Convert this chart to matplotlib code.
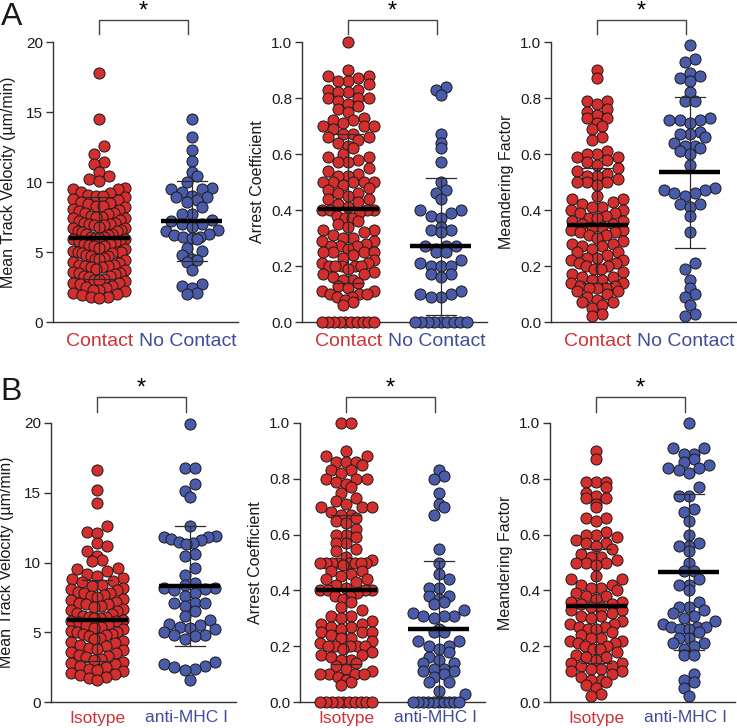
import numpy as np
import matplotlib
matplotlib.use('Agg')
import matplotlib.pyplot as plt

plt.rcParams['font.family'] = ['Liberation Sans', 'DejaVu Sans']

# ---- data ----
# Panel A: Contact vs No Contact
a_vel_contact = [17.8, 14.5, 12.6, 12.0, 11.4, 11.3, 10.7, 10.4, 10.2, 10.1,
                 9.6, 9.5, 9.5, 9.3, 9.2, 9.1, 9.0, 9.0,
                 8.9, 8.8, 8.7, 8.6, 8.5, 8.4, 8.3, 8.3, 8.2, 8.1, 8.0,
                 7.9, 7.8, 7.8, 7.7, 7.6, 7.5, 7.5, 7.4, 7.4, 7.3, 7.2, 7.1, 7.1, 7.0, 7.0,
                 6.9, 6.9, 6.8, 6.7, 6.7, 6.6, 6.5, 6.5, 6.4, 6.3, 6.3, 6.2, 6.1, 6.1, 6.0, 6.0,
                 5.9, 5.9, 5.8, 5.8, 5.7, 5.6, 5.6, 5.5, 5.4, 5.4, 5.3, 5.2, 5.1, 5.0, 5.0, 5.0,
                 4.9, 4.9, 4.8, 4.7, 4.7, 4.6, 4.5, 4.5, 4.4, 4.3, 4.2, 4.1, 4.1, 4.0, 4.0,
                 3.9, 3.9, 3.8, 3.7, 3.6, 3.5, 3.5, 3.4, 3.3, 3.3, 3.2, 3.1, 3.0, 3.0,
                 2.9, 2.8, 2.8, 2.7, 2.6, 2.5, 2.4, 2.3, 2.3, 2.2, 2.1, 2.0,
                 1.9, 1.8, 1.8, 1.7]
a_vel_nocontact = [14.5, 13.2, 12.3, 11.5, 10.7, 10.4, 10.0, 9.6, 9.5, 9.5, 9.3,
                   9.0, 8.9, 8.9, 8.7, 8.6, 8.2, 7.7, 7.7, 7.3, 7.2, 7.0, 7.0,
                   6.8, 6.6, 6.5, 6.3, 6.2, 6.1, 6.1, 6.0, 5.9, 5.3, 5.1, 4.8,
                   4.5, 4.4, 4.3, 3.7, 2.7, 2.6, 2.4, 2.1, 2.0]
a_arrest_contact = [1.0,
                    0.90, 0.88, 0.88, 0.87, 0.86, 0.86, 0.85,
                    0.83, 0.83, 0.82, 0.82, 0.80, 0.80, 0.80, 0.79, 0.78,
                    0.77, 0.76, 0.75, 0.73, 0.72, 0.72, 0.71, 0.70, 0.70, 0.70, 0.69,
                    0.67, 0.67, 0.66, 0.66, 0.65, 0.64, 0.63, 0.62,
                    0.60, 0.59, 0.59, 0.58, 0.57, 0.57, 0.55, 0.54,
                    0.53, 0.52, 0.52, 0.50, 0.50, 0.50, 0.50, 0.50, 0.49, 0.48, 0.47,
                    0.46, 0.46, 0.45, 0.44, 0.44, 0.43, 0.42, 0.41, 0.40, 0.40, 0.40, 0.40, 0.39, 0.38,
                    0.37, 0.37, 0.36, 0.35, 0.34, 0.33, 0.33, 0.32, 0.31, 0.30, 0.30,
                    0.29, 0.29, 0.28, 0.27, 0.27, 0.27, 0.26, 0.25, 0.25, 0.25, 0.25, 0.24, 0.23,
                    0.22, 0.21, 0.21,
                    0.20, 0.20, 0.20, 0.20, 0.20, 0.19, 0.18, 0.17, 0.17, 0.16, 0.15, 0.15, 0.14,
                    0.13, 0.12, 0.11,
                    0.11, 0.10, 0.10, 0.10, 0.09, 0.09, 0.08, 0.07, 0.06,
                    0.0, 0.0, 0.0, 0.0, 0.0, 0.0, 0.0, 0.0, 0.0, 0.0]
a_arrest_nocontact = [0.84, 0.83, 0.81, 0.67, 0.64, 0.62, 0.57, 0.50, 0.47, 0.46,
                      0.44, 0.40, 0.40, 0.39, 0.38, 0.37, 0.34, 0.33, 0.33, 0.32,
                      0.27, 0.27, 0.27, 0.26, 0.25, 0.25, 0.22, 0.21, 0.20, 0.20, 0.20,
                      0.17, 0.17, 0.16, 0.11, 0.10, 0.10, 0.09, 0.09,
                      0.0, 0.0, 0.0, 0.0, 0.0, 0.0, 0.0, 0.0, 0.0]
a_meander_contact = [0.90, 0.87,
                     0.79, 0.79, 0.78, 0.76, 0.75, 0.74, 0.73, 0.73, 0.71, 0.70, 0.69,
                     0.66, 0.65, 0.61,
                     0.60, 0.60, 0.59, 0.59, 0.58, 0.57, 0.56, 0.55, 0.54, 0.53, 0.52, 0.52,
                     0.51, 0.50, 0.50, 0.50, 0.49,
                     0.45, 0.44, 0.44, 0.43, 0.42, 0.41, 0.41, 0.40, 0.40, 0.39, 0.39, 0.38,
                     0.37, 0.37, 0.36, 0.36, 0.35, 0.35, 0.34, 0.34, 0.33, 0.33, 0.32, 0.32,
                     0.31, 0.31, 0.30,
                     0.29, 0.28, 0.28, 0.27, 0.27, 0.26, 0.25, 0.25, 0.24, 0.23, 0.23, 0.22,
                     0.22, 0.21, 0.21, 0.20, 0.20, 0.19, 0.19, 0.18, 0.17, 0.16, 0.16, 0.15,
                     0.15, 0.14, 0.14, 0.13, 0.13, 0.12, 0.12, 0.12, 0.11, 0.11, 0.10,
                     0.09, 0.08, 0.07, 0.07, 0.06, 0.05, 0.03, 0.02]
a_meander_nocontact = [0.99, 0.94, 0.93, 0.89, 0.88, 0.87, 0.86, 0.82, 0.79, 0.79,
                       0.73, 0.72, 0.72, 0.72, 0.71, 0.68, 0.67, 0.67, 0.66, 0.64,
                       0.63, 0.63, 0.62, 0.61, 0.60, 0.56, 0.48, 0.47, 0.47, 0.46,
                       0.46, 0.45, 0.42, 0.42, 0.41, 0.38, 0.32, 0.21, 0.19, 0.15,
                       0.12, 0.10, 0.09, 0.06, 0.03, 0.02]

# Panel B: Isotype vs anti-MHC I
b_vel_iso = [16.6, 15.2, 14.3, 12.6, 12.2, 12.1, 11.4, 11.2, 10.8, 10.5, 10.2, 10.1,
             9.6, 9.5, 9.4, 9.2, 9.0, 8.9, 8.8, 8.7, 8.6, 8.4, 8.3, 8.2, 8.1, 8.0,
             7.9, 7.8, 7.8, 7.7, 7.6, 7.5, 7.4, 7.3, 7.2, 7.1, 7.0, 7.0, 6.9, 6.8, 6.7,
             6.6, 6.5, 6.4, 6.3, 6.2, 6.1, 6.1, 6.0, 6.0,
             5.9, 5.8, 5.8, 5.7, 5.6, 5.5, 5.4, 5.3, 5.2, 5.1, 5.0, 5.0, 4.9, 4.9,
             4.8, 4.7, 4.6, 4.5, 4.4, 4.3, 4.2, 4.1, 4.0,
             3.9, 3.8, 3.7, 3.6, 3.5, 3.4, 3.3, 3.2, 3.1, 3.0, 2.9, 2.8, 2.7, 2.6,
             2.5, 2.4, 2.3, 2.2, 2.1, 2.0, 1.9, 1.8, 1.7, 1.6]
b_vel_anti = [19.9, 16.8, 16.8, 15.6, 15.1, 14.7,
              12.6, 11.9, 11.8, 11.8, 11.7, 11.6, 11.5, 11.4, 11.3,
              10.6, 10.5, 9.6, 9.1,
              8.5, 8.4, 8.2, 8.2, 8.1, 8.0, 7.8, 7.6, 7.1, 7.1, 7.1, 6.9,
              6.5, 6.2, 5.9, 5.6, 5.5, 5.4, 5.3, 5.2, 5.0, 4.8, 4.8, 4.7, 4.5,
              2.9, 2.7, 2.6, 2.5, 2.4, 2.3, 1.6]
b_arrest_iso = [1.0, 1.0, 0.90, 0.88, 0.88, 0.86, 0.86, 0.86, 0.85, 0.83, 0.83, 0.82,
                0.80, 0.80, 0.80, 0.79, 0.78, 0.77, 0.75,
                0.73, 0.72, 0.71, 0.70, 0.70, 0.70, 0.68, 0.67, 0.67, 0.66, 0.65, 0.64, 0.62,
                0.60, 0.60, 0.59, 0.57, 0.57,
                0.55, 0.54, 0.52, 0.51, 0.50, 0.50, 0.50, 0.50, 0.50, 0.50, 0.50, 0.50,
                0.49, 0.47, 0.47, 0.46, 0.45, 0.44, 0.44, 0.43, 0.42, 0.41, 0.40, 0.40,
                0.40, 0.40, 0.39, 0.38, 0.38, 0.37, 0.36,
                0.34, 0.33, 0.31, 0.31, 0.30, 0.29, 0.28, 0.28, 0.27, 0.27, 0.26, 0.25,
                0.25, 0.25, 0.24, 0.23, 0.23, 0.22, 0.21, 0.20, 0.20, 0.20, 0.20, 0.20,
                0.19, 0.18, 0.17, 0.17, 0.16, 0.15, 0.15, 0.14, 0.13, 0.12, 0.11, 0.10,
                0.10, 0.10, 0.10, 0.09, 0.08, 0.07, 0.06,
                0.0, 0.0, 0.0, 0.0, 0.0, 0.0, 0.0, 0.0, 0.0, 0.0]
b_arrest_anti = [0.83, 0.81, 0.80, 0.75, 0.71, 0.70, 0.67,
                 0.55, 0.50, 0.46, 0.44, 0.41, 0.41, 0.38, 0.38, 0.37, 0.36, 0.35,
                 0.33, 0.32, 0.31, 0.31, 0.31, 0.30,
                 0.26, 0.25, 0.25, 0.22, 0.22, 0.20, 0.20, 0.19, 0.18, 0.16, 0.15,
                 0.14, 0.14, 0.12, 0.12, 0.11, 0.11, 0.10, 0.09, 0.07, 0.07, 0.04, 0.03,
                 0.0, 0.0, 0.0, 0.0, 0.0, 0.0, 0.0, 0.0, 0.0, 0.0]
b_meander_iso = [0.90, 0.87, 0.79, 0.79, 0.79, 0.77, 0.75, 0.74, 0.73, 0.73, 0.71,
                 0.70, 0.66, 0.66, 0.65,
                 0.61, 0.60, 0.60, 0.59, 0.58, 0.57, 0.57, 0.56, 0.55, 0.53, 0.52,
                 0.52, 0.51, 0.50, 0.50, 0.50, 0.49,
                 0.45, 0.44, 0.44, 0.42, 0.42, 0.41, 0.41, 0.40, 0.39, 0.38, 0.38,
                 0.37, 0.36, 0.36, 0.35, 0.35, 0.34, 0.34, 0.33, 0.33, 0.32, 0.31,
                 0.31, 0.30,
                 0.29, 0.28, 0.28, 0.27, 0.27, 0.26, 0.26, 0.25, 0.24, 0.23, 0.23,
                 0.22, 0.22, 0.21, 0.21, 0.20, 0.20, 0.19, 0.19, 0.18, 0.17, 0.16,
                 0.16, 0.15, 0.14, 0.14, 0.13, 0.13, 0.12, 0.12, 0.11, 0.11, 0.10,
                 0.09, 0.08, 0.08, 0.07, 0.06, 0.05, 0.03, 0.02]
b_meander_anti = [1.0, 0.91, 0.91, 0.89, 0.89, 0.87, 0.86, 0.85, 0.84, 0.84, 0.83, 0.82,
                  0.77, 0.74, 0.74, 0.69, 0.68, 0.65, 0.60, 0.57, 0.56, 0.56, 0.54, 0.50,
                  0.47, 0.47, 0.44, 0.42, 0.42, 0.40, 0.36,
                  0.34, 0.34, 0.33, 0.32, 0.31, 0.30, 0.29, 0.28, 0.27, 0.27, 0.27,
                  0.26, 0.26, 0.25, 0.23, 0.23, 0.21, 0.21, 0.20, 0.19, 0.17, 0.17,
                  0.10, 0.08, 0.07, 0.05, 0.02]

# group means and SD ends
a_means = [[6.0, 7.2], [0.405, 0.27], [0.345, 0.535]]
a_sd_hi = [[8.95, 10.07], [0.67, 0.515], [0.55, 0.805]]
a_sd_lo = [[3.05, 4.33], [0.14, 0.025], [0.14, 0.265]]
b_means = [[5.85, 8.32], [0.40, 0.26], [0.345, 0.465]]
b_sd_hi = [[8.75, 12.65], [0.67, 0.505], [0.55, 0.745]]
b_sd_lo = [[2.95, 4.0], [0.135, 0.015], [0.14, 0.185]]

a_groups = ['Contact', 'No Contact']
b_groups = ['Isotype', 'anti-MHC I']
ylabels = ['Mean Track Velocity (\u00b5m/min)', 'Arrest Coefficient', 'Meandering Factor']

red = '#d42e2e'
blue = '#4a5ba9'
red_txt = '#cf3139'
blue_txt = '#3e4d9c'


def swarm_x(vals, bin_h, dx=0.11, half=0.28):
    # prism-like layout: bin values into rows, spread each row from the centre outwards
    vals = np.asarray(vals, dtype=float)
    xs = np.zeros(len(vals))
    bins = np.floor(vals / bin_h + 1e-9)
    for b in np.unique(bins):
        idx = np.where(bins == b)[0]
        idx = idx[np.argsort(vals[idx])]
        n = len(idx)
        step = dx if n < 2 or (n - 1) * dx / 2 <= half else 2 * half / (n - 1)
        for k, i in enumerate(idx):
            if n % 2 == 1:
                m = (k + 1) // 2
                sign = -1 if k % 2 == 1 else 1
                xs[i] = sign * m * step
            else:
                m = k // 2 + 0.5
                sign = -1 if k % 2 == 0 else 1
                xs[i] = sign * m * step
    return xs


fig = plt.figure(figsize=(7.37, 7.28), dpi=100)

rows = [
    dict(data=[(a_vel_contact, a_vel_nocontact), (a_arrest_contact, a_arrest_nocontact),
               (a_meander_contact, a_meander_nocontact)],
         means=a_means, hi=a_sd_hi, lo=a_sd_lo, groups=a_groups,
         lefts=[53, 302, 551], top=42, bottom=322, lab_size=14, lab_off=19,
         brk=(22, 8, 30), letter='A', letter_y=2),
    dict(data=[(b_vel_iso, b_vel_anti), (b_arrest_iso, b_arrest_anti),
               (b_meander_iso, b_meander_anti)],
         means=b_means, hi=b_sd_hi, lo=b_sd_lo, groups=b_groups,
         lefts=[51, 300, 550], top=423, bottom=702, lab_size=12.5, lab_off=16,
         brk=(26, 11, 34), letter='B', letter_y=377),
]

W, H = 737.0, 728.0
for row in rows:
    for j in range(3):
        left = row['lefts'][j]
        ax = fig.add_axes([left / W, 1 - row['bottom'] / H, 185 / W,
                           (row['bottom'] - row['top']) / H])
        hpx = row['bottom'] - row['top']
        if j == 0:
            ymax, ticks, bin_h = 20, [0, 5, 10, 15, 20], 0.75
        else:
            ymax, ticks, bin_h = 1.0, [0, 0.2, 0.4, 0.6, 0.8, 1.0], 0.037
        for g, (vals, col) in enumerate(zip(row['data'][j], [red, blue])):
            xs = g + swarm_x(vals, bin_h)
            ax.scatter(xs, vals, s=64, c=col, edgecolors='#1a1a1a', linewidths=0.7,
                       zorder=3, clip_on=False)
            m = row['means'][j][g]
            ax.plot([g, g], [row['lo'][j][g], row['hi'][j][g]], color='#2b2b2b',
                    lw=0.9, zorder=4, clip_on=False)
            for yv in (row['lo'][j][g], row['hi'][j][g]):
                ax.plot([g - 0.16, g + 0.16], [yv, yv], color='#2b2b2b', lw=0.9,
                        zorder=4, clip_on=False)
            ax.plot([g - 0.33, g + 0.33], [m, m], color='black', lw=3.2, zorder=5,
                    solid_capstyle='butt', clip_on=False)

        ax.set_xlim(-0.5, 1.5)
        ax.set_ylim(0, ymax)
        ax.set_yticks(ticks)
        if j == 0:
            ax.set_yticklabels([str(t) for t in ticks])
        else:
            ax.set_yticklabels(['%.1f' % t for t in ticks])
        ax.set_xticks([])
        for s in ['top', 'right']:
            ax.spines[s].set_visible(False)
        for s in ['left', 'bottom']:
            ax.spines[s].set_color('#333333')
            ax.spines[s].set_linewidth(1.0)
        ax.tick_params(axis='y', length=5, width=1.0, color='#333333',
                       labelsize=11, labelcolor='#1a1a1a', pad=2)
        ax.set_ylabel(ylabels[j], fontsize=11.5, color='#1a1a1a')
        ax.yaxis.set_label_coords(-0.2, 0.5)

        # group labels
        for g, col in enumerate([red_txt, blue_txt]):
            ax.annotate(row['groups'][g], xy=(g - 0.04 * g, 0),
                        xycoords=('data', 'axes fraction'),
                        xytext=(0, -row['lab_off'] * 0.72), textcoords='offset points',
                        ha='center', va='center', fontsize=row['lab_size'], color=col)

        # significance bracket
        up, drop, star = row['brk']
        yb = 1 + up / hpx
        yd = 1 + drop / hpx
        ax.plot([0.0, 0.0, 0.96, 0.96], [yd, yb, yb, yd], color='#444444', lw=1.0,
                transform=ax.get_xaxis_transform(), clip_on=False)
        ax.text(0.48, 1 + star / hpx, '*', transform=ax.get_xaxis_transform(),
                ha='center', va='center', fontsize=17, color='black')

    fig.text(0.001, 1 - row['letter_y'] / H, row['letter'], fontsize=23,
             ha='left', va='top', color='#1a1a1a')

plt.savefig('out.png', dpi=100)
